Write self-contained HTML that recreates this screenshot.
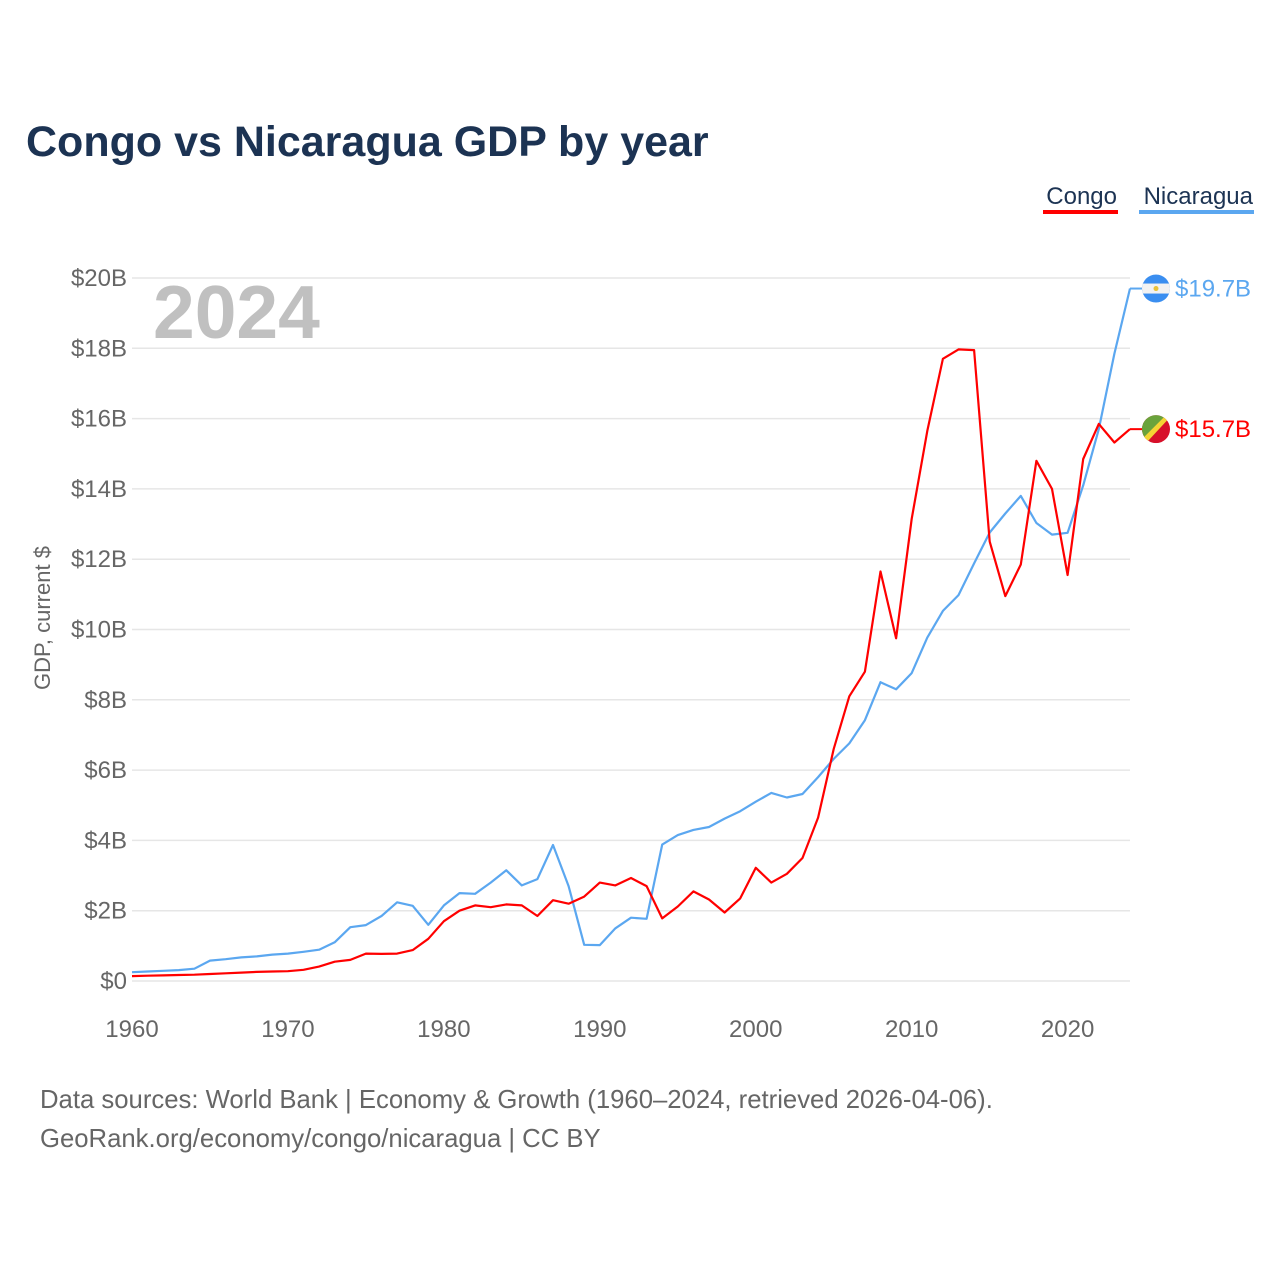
<!DOCTYPE html>
<html><head><meta charset="utf-8"><style>
html,body{margin:0;padding:0;background:#fff;width:1280px;height:1280px;overflow:hidden;font-family:"Liberation Sans",sans-serif;}
</style></head><body>
<svg width="1280" height="1280" xmlns="http://www.w3.org/2000/svg" style="font-family:'Liberation Sans',sans-serif">
<text x="26" y="156" font-size="43" font-weight="bold" fill="#1c3353">Congo vs Nicaragua GDP by year</text>
<g>
<text x="1117" y="204" font-size="24" fill="#1c3353" text-anchor="end">Congo</text>
<rect x="1043" y="210" width="75" height="4" fill="#ff0000"/>
<text x="1253" y="204" font-size="24" fill="#1c3353" text-anchor="end">Nicaragua</text>
<rect x="1139" y="210" width="115" height="4" fill="#5ba7f0"/>
</g>
<text x="153" y="338" font-size="75" font-weight="bold" fill="#c0c0c0">2024</text>
<text transform="translate(50,618) rotate(-90)" font-size="22" fill="#666" text-anchor="middle">GDP, current $</text>
<g id="grid"></g><g id="yt"></g><g id="xt"></g><g id="lines"></g>
<text x="40" y="1108" font-size="25.7" fill="#666">Data sources: World Bank | Economy &amp; Growth (1960–2024, retrieved 2026-04-06).</text>
<text x="40" y="1147" font-size="25.7" fill="#666">GeoRank.org/economy/congo/nicaragua | CC BY</text>
</svg>
<script>
const years=[];for(let y=1960;y<=2024;y++)years.push(y);
const congo=[0.14,0.15,0.16,0.17,0.18,0.2,0.22,0.24,0.26,0.27,0.28,0.32,0.41,0.55,0.6,0.78,0.77,0.78,0.88,1.2,1.7,2.0,2.15,2.1,2.18,2.15,1.85,2.3,2.2,2.4,2.8,2.72,2.93,2.7,1.78,2.12,2.55,2.32,1.95,2.35,3.22,2.8,3.05,3.5,4.65,6.6,8.1,8.8,11.65,9.75,13.15,15.65,17.7,17.97,17.95,12.5,10.95,11.85,14.8,14.0,11.55,14.85,15.85,15.32,15.7];
const nicaragua=[0.25,0.27,0.29,0.31,0.35,0.58,0.62,0.67,0.7,0.75,0.78,0.83,0.89,1.1,1.53,1.59,1.85,2.24,2.14,1.6,2.15,2.5,2.48,2.8,3.15,2.72,2.9,3.87,2.7,1.03,1.02,1.5,1.8,1.77,3.88,4.15,4.3,4.38,4.62,4.83,5.1,5.35,5.22,5.32,5.8,6.32,6.76,7.42,8.5,8.3,8.76,9.77,10.53,10.98,11.88,12.76,13.3,13.8,13.03,12.7,12.75,14.1,15.7,17.85,19.7];
const yTicks=[0,2,4,6,8,10,12,14,16,18,20];
const xTicks=[1960,1970,1980,1990,2000,2010,2020];
const NS="http://www.w3.org/2000/svg";
const X=v=>132+(v-1960)*(1130-132)/64;
const Y=v=>981-v*(981-278)/20;
function mk(t,a,p){const e=document.createElementNS(NS,t);for(const k in a)e.setAttribute(k,a[k]);p.appendChild(e);return e;}
const grid=document.getElementById('grid'),yt=document.getElementById('yt'),xt=document.getElementById('xt'),lines=document.getElementById('lines');
yTicks.forEach(v=>{
 const l=mk('line',{x1:132,x2:1130,y1:Y(v),y2:Y(v),stroke:'#e6e6e6','stroke-width':1.5},grid);
 
 
 const t=mk('text',{x:127,y:Y(v)+8,'font-size':24,fill:'#666','text-anchor':'end'},yt);
 t.textContent='$'+v+(v===0?'':'B');
 
 
});
xTicks.forEach(v=>{
 const t=mk('text',{x:X(v),y:1037,'font-size':24,fill:'#666','text-anchor':'middle'},xt);
 t.textContent=v;
 
 
});
function line(data,color,name){
 const d=data.map((v,i)=>(i?'L':'M')+X(years[i]).toFixed(1)+','+Y(v).toFixed(1)).join('');
 const p=mk('path',{d:d,fill:'none',stroke:color,'stroke-width':2.2,'stroke-linejoin':'round'},lines);
 
 
}
line(nicaragua,'#5ba7f0','nicaragua-line');
line(congo,'#ff0000','congo-line');
function endLabel(v,color,name,flag){
 const y=Y(v);
 mk('line',{x1:1130,x2:1142,y1:y,y2:y,stroke:color,'stroke-width':2},lines);
 const g=mk('g',{},lines);
 
 
 mk('clipPath',{id:'c'+name},g);
 mk('circle',{cx:1156,cy:y,r:14},document.getElementById('c'+name));
 const f=mk('g',{'clip-path':'url(#c'+name+')'},g);
 if(flag==='ni'){
  mk('rect',{x:1142,y:y-14,width:28,height:28,fill:'#3a8ef0'},f);
  mk('rect',{x:1142,y:y-5,width:28,height:10,fill:'#f2f2f2'},f);
  mk('circle',{cx:1156,cy:y,r:2.5,fill:'#e8c23a'},f);
 }else{
  mk('rect',{x:1142,y:y-14,width:28,height:28,fill:'#d7102a'},f);
  mk('polygon',{points:(1142)+','+(y+14)+' '+(1142)+','+(y-14)+' '+(1170)+','+(y-14),fill:'#6aa33c'},f);
  mk('polygon',{points:(1142)+','+(y+10)+' '+(1166)+','+(y-14)+' '+(1172)+','+(y-14)+' '+(1146)+','+(y+14)+' '+(1142)+','+(y+14),fill:'#f4d434'},f);
 }
 const t=mk('text',{x:1175,y:y+8,'font-size':24,fill:color},lines);
 t.textContent='$'+v.toFixed(1)+'B';
 
 
}
endLabel(nicaragua[nicaragua.length-1],'#5ba7f0','nicaragua','ni');
endLabel(congo[congo.length-1],'#ff0000','congo','cg');
</script>
</body></html>
